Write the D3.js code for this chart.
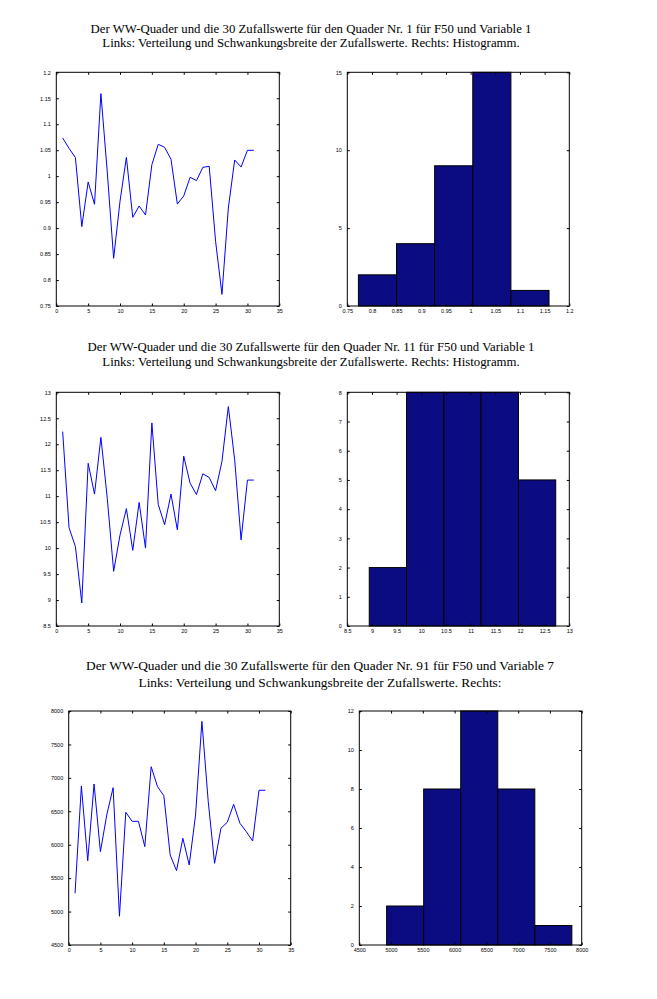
<!DOCTYPE html>
<html>
<head>
<meta charset="utf-8">
<script src="https://cdn.jsdelivr.net/npm/d3@7"></script>
<style>
  html, body { margin: 0; padding: 0; background: #fff; }
  svg { display: block; }
  .tick text { font-family: "Liberation Sans", Arial, sans-serif; font-size: 5.5px; fill: #000; }
  .title { font-family: "Liberation Serif", "Times New Roman", serif; fill: #000; }
</style>
</head>
<body>
<script>
// ---------- DATA ----------
const sampleIndex = [1,2,3,4,5,6,7,8,9,10,11,12,13,14,15,16,17,18,19,20,21,22,23,24,25,26,27,28,29,30,31];

const values1 = [1.0735,1.0536,1.0357,0.9028,0.9888,0.9458,1.1589,1.008,0.8418,0.9516,1.0363,0.9208,0.9426,0.9253,1.022,1.0613,1.0556,1.0325,0.9464,0.9618,0.9978,0.9914,1.0170,1.019,0.8745,0.7725,0.9387,1.0312,1.0177,1.0498,1.0498];
const values2 = [12.2425,10.394,10.028,8.945,11.633,11.04,12.133,10.96,9.553,10.25,10.76,9.957,10.88,10.0,12.41,10.84,10.45,11.04,10.35,11.77,11.25,11.03,11.43,11.36,11.105,11.67,12.725,11.70,10.16,11.31,11.31];
const values3 = [5273,6878,5761,6908,5896,6445,6853,4930,6485,6350,6350,5971,7167,6868,6734,5846,5612,6096,5697,6445,7845,6644,5722,6246,6335,6604,6320,6195,6056,6814,6814];

const histCounts1 = [2,4,9,15,1];
const histCounts2 = [2,8,8,8,5];
const histCounts3 = [2,8,12,8,1];

const lineXTicks = [0,5,10,15,20,25,30,35];
const yTicks1 = [0.75,0.8,0.85,0.9,0.95,1,1.05,1.1,1.15,1.2];
const yTicks2 = [8.5,9,9.5,10,10.5,11,11.5,12,12.5,13];
const yTicks3 = [4500,5000,5500,6000,6500,7000,7500,8000];
const countTicks1 = [0,5,10,15];
const countTicks2 = [0,1,2,3,4,5,6,7,8];
const countTicks3 = [0,2,4,6,8,10,12];

const titles1 = ["Der WW-Quader und die 30 Zufallswerte für den Quader Nr. 1 für F50 und Variable 1",
                 "Links: Verteilung und Schwankungsbreite der Zufallswerte. Rechts: Histogramm."];
const titles2 = ["Der WW-Quader und die 30 Zufallswerte für den Quader Nr. 11 für F50 und Variable 1",
                 "Links: Verteilung und Schwankungsbreite der Zufallswerte. Rechts: Histogramm."];
const titles3 = ["Der WW-Quader und die 30 Zufallswerte für den Quader Nr. 91 für F50 und Variable 7",
                 "Links: Verteilung und Schwankungsbreite der Zufallswerte. Rechts:"];

// ---------- LAYOUT ----------
const W = 657, H = 999;
const svg = d3.select("body").append("svg").attr("width", W).attr("height", H);

const rows = [
  { titles: titles1, titleX: 311, titleY: 32.5, titleGap: 14.5, titleSize: 12.8, values: values1, yTicks: yTicks1, counts: histCounts1, cTicks: countTicks1,
    top: 72.3, bottom: 306, lx0: 56.3, lx1: 279.3, rx0: 347.3, rx1: 569.3 },
  { titles: titles2, titleX: 311, titleY: 350.5, titleGap: 15, titleSize: 12.8, values: values2, yTicks: yTicks2, counts: histCounts2, cTicks: countTicks2,
    top: 392.3, bottom: 626, lx0: 56.3, lx1: 279.3, rx0: 347.3, rx1: 569.3 },
  { titles: titles3, titleX: 320, titleY: 669.5, titleGap: 17.5, titleSize: 13.4, values: values3, yTicks: yTicks3, counts: histCounts3, cTicks: countTicks3,
    top: 711, bottom: 945, lx0: 68.7, lx1: 290.7, rx0: 359.3, rx1: 581.7 }
];

const TICK = 2.5;

function boxAxes(g, x, y, xTicks, yTicks) {
  const [x0, x1] = x.range();
  const [y0, y1] = y.range(); // y0 bottom, y1 top
  const fmt = d => String(d);
  const bottom = g.append("g").attr("transform", `translate(0,${y0})`)
    .call(d3.axisBottom(x).tickValues(xTicks).tickFormat(fmt).tickSizeInner(-TICK).tickSizeOuter(0).tickPadding(3.5));
  const left = g.append("g").attr("transform", `translate(${x0},0)`)
    .call(d3.axisLeft(y).tickValues(yTicks).tickFormat(fmt).tickSizeInner(-TICK).tickSizeOuter(0).tickPadding(5.5));
  const top = g.append("g").attr("transform", `translate(0,${y1})`)
    .call(d3.axisTop(x).tickValues(xTicks).tickFormat("").tickSizeInner(-TICK).tickSizeOuter(0));
  const right = g.append("g").attr("transform", `translate(${x1},0)`)
    .call(d3.axisRight(y).tickValues(yTicks).tickFormat("").tickSizeInner(-TICK).tickSizeOuter(0));
  [bottom, left, top, right].forEach(a => {
    a.select(".domain").remove();
    a.selectAll(".tick line").attr("stroke", "#000").attr("stroke-width", 1);
  });
  g.append("rect").attr("x", x0).attr("y", y1).attr("width", x1 - x0).attr("height", y0 - y1)
    .attr("fill", "none").attr("stroke", "#000").attr("stroke-width", 1);
}

rows.forEach(r => {
  // titles
  r.titles.forEach((t, i) => {
    svg.append("text").attr("class", "title").attr("x", r.titleX).attr("y", r.titleY + i * r.titleGap)
      .attr("font-size", r.titleSize).attr("text-anchor", "middle").text(t);
  });

  // left: line plot
  const gl = svg.append("g");
  const xl = d3.scaleLinear().domain([0, 35]).range([r.lx0, r.lx1]);
  const yl = d3.scaleLinear().domain([r.yTicks[0], r.yTicks[r.yTicks.length - 1]]).range([r.bottom, r.top]);
  const line = d3.line().x((d, i) => xl(sampleIndex[i])).y(d => yl(d));
  gl.append("path").datum(r.values).attr("d", line)
    .attr("fill", "none").attr("stroke", "#0000ff").attr("stroke-width", 1);
  boxAxes(gl, xl, yl, lineXTicks, r.yTicks);

  // right: histogram
  const gr = svg.append("g");
  const xr = d3.scaleLinear().domain([r.yTicks[0], r.yTicks[r.yTicks.length - 1]]).range([r.rx0, r.rx1]);
  const yr = d3.scaleLinear().domain([r.cTicks[0], r.cTicks[r.cTicks.length - 1]]).range([r.bottom, r.top]);
  const [vmin, vmax] = d3.extent(r.values);
  const bw = (vmax - vmin) / r.counts.length;
  gr.selectAll("rect.bar").data(r.counts).join("rect").attr("class", "bar")
    .attr("x", (d, i) => xr(vmin + i * bw))
    .attr("width", (d, i) => xr(vmin + (i + 1) * bw) - xr(vmin + i * bw))
    .attr("y", d => yr(d))
    .attr("height", d => yr(0) - yr(d))
    .attr("fill", "#0c0c82").attr("stroke", "#000").attr("stroke-width", 1);
  boxAxes(gr, xr, yr, r.yTicks, r.cTicks);
});
</script>
</body>
</html>
